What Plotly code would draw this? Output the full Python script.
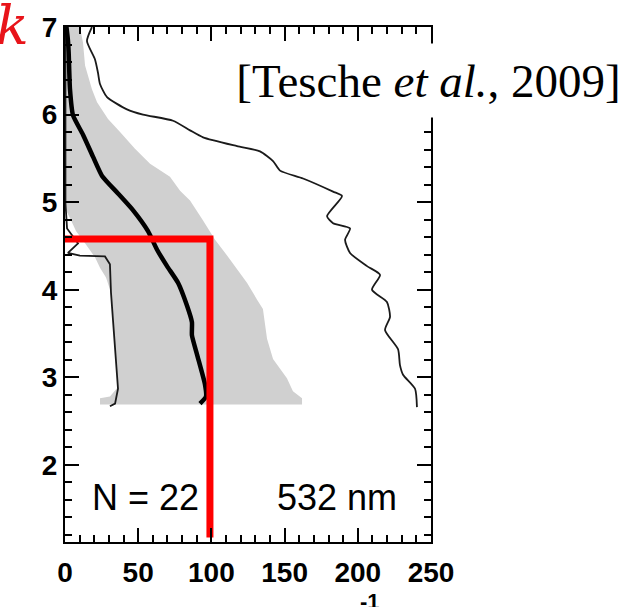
import plotly.graph_objects as go

# ---- data ----
# thin right line (maximum)
max_x = [18.4, 15.0, 20.5, 22.5, 23.9, 28.7, 42.3, 53.3, 73.8, 85.4, 94.3, 117.5, 133.2, 142.1,
         146.9, 162.6, 183.1, 189.2, 179.0, 183.1, 194.7, 191.3, 194.7, 206.3, 215.2, 209.7,
         219.9, 222.0, 218.6, 227.5, 228.8, 230.9, 239.1, 240.4]
max_h = [7.0, 6.84, 6.63, 6.48, 6.35, 6.20, 6.06, 6.00, 5.93, 5.82, 5.74, 5.64, 5.58, 5.47,
         5.36, 5.27, 5.12, 5.07, 4.84, 4.76, 4.70, 4.57, 4.42, 4.27, 4.17, 4.00,
         3.86, 3.69, 3.54, 3.32, 3.14, 3.03, 2.87, 2.66]

# thick mean line
mean_x = [1.0, 2.0, 2.5, 3.4, 5.5, 12.3, 19.1, 25.3, 36.2, 46.4, 56.7, 62.8, 69.7, 77.2,
          83.3, 86.7, 86.7, 90.2, 95.6, 96.3, 92.2]
mean_h = [7.0, 6.85, 6.71, 6.29, 5.99, 5.77, 5.52, 5.30, 5.10, 4.91, 4.67, 4.46, 4.27, 4.08,
          3.82, 3.63, 3.48, 3.26, 2.92, 2.78, 2.70]

# thin left line (minimum)
min_x = [0.3, 0.3, 1.4, 8.9, 2.0, 10.2, 27.3, 30.7, 31.4, 32.1, 34.2, 36.2, 34.2, 30.7]
min_h = [7.0, 4.99, 4.70, 4.53, 4.42, 4.39, 4.38, 4.29, 3.97, 3.82, 3.26, 2.87, 2.70, 2.67]

# grey band, right edge (top to bottom)
band_r_x = [10.2, 12.3, 13.7, 18.4, 21.9, 29.4, 37.6, 47.8, 58.1, 71.7, 78.6, 85.4, 94.3,
            102.5, 110.7, 120.9, 124.3, 131.1, 135.2, 138.0, 142.1, 151.6, 155.7, 161.9, 161.9]
band_r_h = [7.0, 6.82, 6.56, 6.29, 6.14, 5.95, 5.80, 5.61, 5.44, 5.29, 5.13, 5.02, 4.79,
            4.57, 4.39, 4.16, 4.08, 3.89, 3.78, 3.44, 3.21, 2.99, 2.84, 2.76, 2.69]
# grey band, left edge (top to bottom)
band_l_x = [0.0, 0.0, 3.4, 7.5, 13.7, 20.5, 23.9, 28.0, 31.4, 32.8, 34.2, 36.2, 30.7, 23.9, 23.9]
band_l_h = [7.0, 4.93, 4.82, 4.67, 4.53, 4.37, 4.25, 4.14, 3.97, 3.74, 3.29, 2.89, 2.78, 2.76, 2.69]

# red overlay marks
red_x = [-4, 99, 99]
red_y = [4.58, 4.58, 1.17]

x_ticks = [0, 50, 100, 150, 200, 250]
y_ticks = [2, 3, 4, 5, 6, 7]

fig = go.Figure()

fig.add_trace(go.Scatter(
    x=band_r_x + band_l_x[::-1], y=band_r_h + band_l_h[::-1],
    fill="toself", fillcolor="#d0d0d0", mode="lines", line=dict(width=0, color="#d0d0d0"),
    hoverinfo="skip", showlegend=False))
fig.add_trace(go.Scatter(x=min_x, y=min_h, mode="lines",
                         line=dict(color="#1a1a1a", width=1.8), showlegend=False))
fig.add_trace(go.Scatter(x=max_x, y=max_h, mode="lines",
                         line=dict(color="#1a1a1a", width=1.8, shape="spline", smoothing=0.6),
                         showlegend=False))
fig.add_trace(go.Scatter(x=mean_x, y=mean_h, mode="lines",
                         line=dict(color="black", width=4.5, shape="spline", smoothing=0.5),
                         showlegend=False))
fig.add_trace(go.Scatter(x=red_x, y=red_y, mode="lines", cliponaxis=False,
                         line=dict(color="#ff0000", width=7), showlegend=False))

tick_font = dict(family="Liberation Sans", size=28, color="black", weight="bold")

fig.update_xaxes(range=[0, 250], tickvals=x_ticks, ticks="inside", ticklen=14, tickwidth=2,
                 tickcolor="black", showline=True, linecolor="black", linewidth=2,
                 mirror="ticks", showgrid=False, zeroline=False, tickfont=tick_font,
                 ticklabelstandoff=4,
                 minor=dict(ticks="inside", ticklen=7, tickwidth=2, tickcolor="black",
                            dtick=10, tick0=0, showgrid=False))
fig.update_yaxes(range=[1.12, 7.0], tickvals=y_ticks, ticks="inside", ticklen=14, tickwidth=2,
                 tickcolor="black", showline=True, linecolor="black", linewidth=2,
                 mirror="ticks", showgrid=False, zeroline=False, tickfont=tick_font,
                 minor=dict(ticks="inside", ticklen=7, tickwidth=2, tickcolor="black",
                            dtick=0.2, tick0=0, showgrid=False))

fig.add_annotation(xref="paper", yref="paper", x=(428 - 65) / 366, y=(542 - 76.5) / 520,
                   xanchor="center", yanchor="middle",
                   text="[Tesche <i>et al.</i>, 2009]", showarrow=False,
                   font=dict(family="Liberation Serif", size=47, color="black"),
                   bgcolor="white", width=405, height=73, valign="middle", borderpad=0)
fig.add_annotation(xref="paper", yref="paper", x=0.221, y=0.0865, text="N = 22",
                   xanchor="center", yanchor="middle",
                   showarrow=False, font=dict(family="Liberation Sans", size=36, color="black"))
fig.add_annotation(xref="paper", yref="paper", x=0.743, y=0.0865, text="532 nm",
                   xanchor="center", yanchor="middle",
                   showarrow=False, font=dict(family="Liberation Sans", size=36, color="black"))
fig.add_annotation(xref="paper", yref="paper", x=(370 - 65) / 366, y=(542 - 587) / 520,
                   xanchor="center", yanchor="top", text="-1", showarrow=False,
                   font=dict(family="Liberation Sans", size=22, color="black", weight="bold"))
fig.add_annotation(xref="paper", yref="paper", x=(12 - 65) / 366, y=(542 - 20) / 520,
                   xanchor="center", yanchor="middle",
                   text="k", showarrow=False,
                   font=dict(family="DejaVu Serif", size=54, color="#e8141a", style="italic"))

fig.update_layout(width=637, height=607, margin=dict(l=65, r=206, t=22, b=65),
                  plot_bgcolor="white", paper_bgcolor="white")

fig.write_html("out.html")
